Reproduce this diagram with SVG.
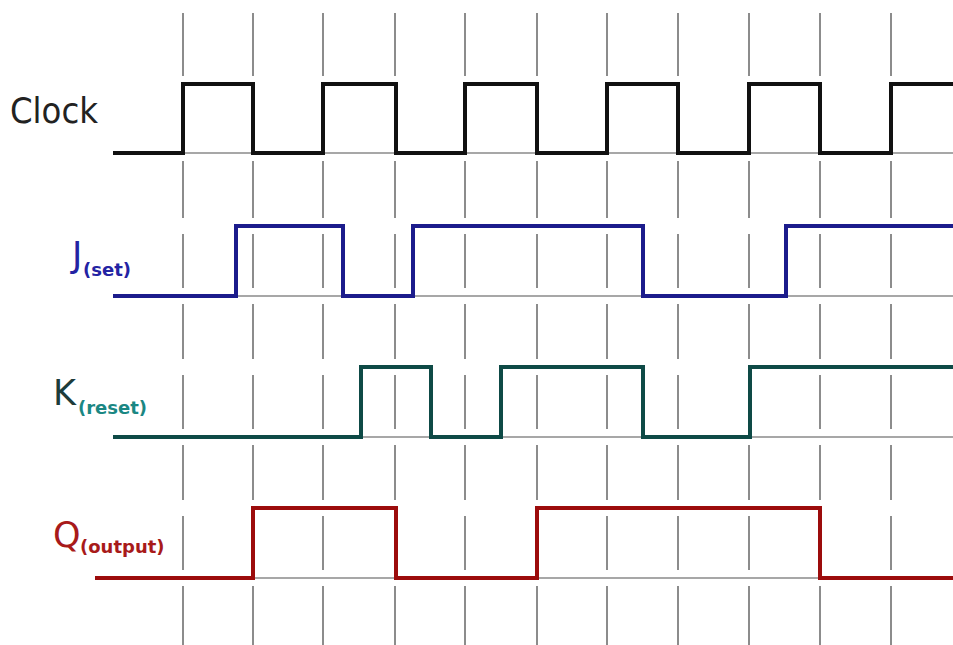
<svg xmlns="http://www.w3.org/2000/svg" width="953" height="645" viewBox="0 0 953 645">
<style>
.grid{stroke:#707070;stroke-width:1.6;fill:none}
.base{stroke:#8a8a8a;stroke-width:1.4;fill:none}
.sig{stroke-width:4;fill:none;stroke-linejoin:miter;stroke-linecap:butt}
.lbl{font-family:"DejaVu Sans",Verdana,sans-serif;font-size:35px}
.sub{font-family:"DejaVu Sans",Verdana,sans-serif;font-size:18px;font-weight:bold}
</style>
<defs>
<path id="vline" class="grid" d="M0 13V76M0 92V145M0 161V218M0 234V288M0 304V359M0 375V429M0 445V500M0 516V570M0 586V645"/>
</defs>
<rect width="953" height="645" fill="#ffffff"/>
<g id="grid">
<use href="#vline" x="183"/><use href="#vline" x="253"/><use href="#vline" x="323"/><use href="#vline" x="395"/><use href="#vline" x="465"/><use href="#vline" x="537"/><use href="#vline" x="607"/><use href="#vline" x="678"/><use href="#vline" x="749"/><use href="#vline" x="820"/><use href="#vline" x="891"/>
<path class="base" d="M113 153H953M113 296H953M113 437H953M95 578H953"/>
</g>
<g id="connectors">
<path id="clock-wave" class="sig" stroke="#111111" d="M113 153H183V84H253V153H323V84H396V153H465V84H537V153H607V84H678V153H749V84H820V153H891V84H953"/>
<path id="j-wave" class="sig" stroke="#1c1c8c" d="M113 296H236V226H343V296H413V226H643V296H786V226H953"/>
<path id="k-wave" class="sig" stroke="#0e4a46" d="M113 437H361V367H431V437H501V367H643V437H750V367H953"/>
<path id="q-wave" class="sig" stroke="#9c0c0c" d="M95 578H253V508H396V578H537V508H820V578H953"/>
</g>
<g id="clock-label"><text class="lbl" x="10" y="123" fill="#222222" textLength="88" lengthAdjust="spacingAndGlyphs">Clock</text></g>
<g id="j-label"><text class="lbl" x="72" y="267" fill="#2323a3">J</text><text class="sub" x="83" y="276" fill="#2323a3">(set)</text></g>
<g id="k-label"><text class="lbl" x="53" y="405" fill="#1c3c3a">K</text><text class="sub" x="78" y="414" fill="#1a8783">(reset)</text></g>
<g id="q-label"><text class="lbl" x="53" y="547" fill="#a81a1a">Q</text><text class="sub" x="80" y="553" fill="#a81a1a">(output)</text></g>
</svg>
